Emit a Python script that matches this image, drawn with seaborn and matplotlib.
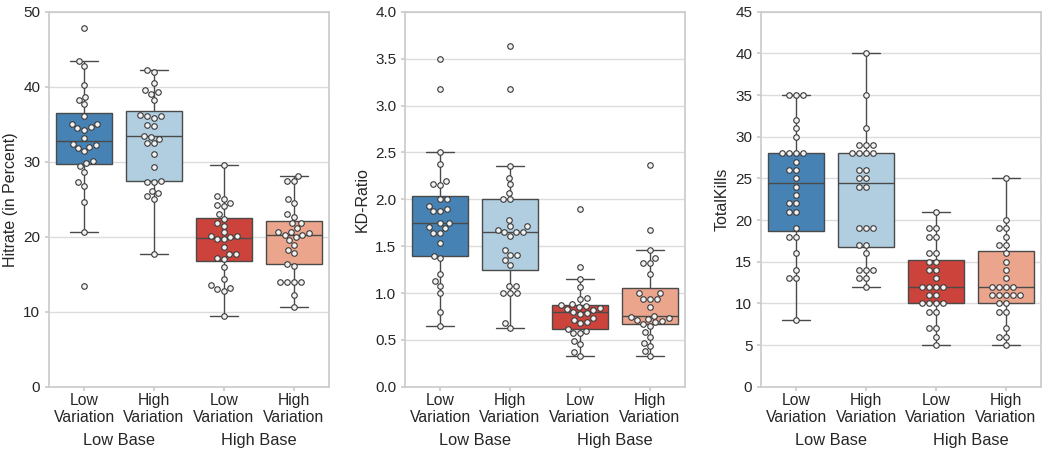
import numpy as np
import pandas as pd
import seaborn as sns
import matplotlib.pyplot as plt
from matplotlib.transforms import blended_transform_factory

# condition order (x axis) and grouping labels underneath
conditions = ['Low\nVariation', 'High\nVariation', 'Low\nVariation ', 'High\nVariation ']
base_labels = ['Low Base', 'High Base']
colors = ['#4682b4', '#b1cde0', '#cc433b', '#eca58d']

# Hitrate (in Percent), 28 participants per condition
hit_lv_lb = [13.5, 20.7, 24.7, 26.8, 27.3, 28.7, 29.4, 29.8, 30.1, 31.4, 31.9, 32.0, 32.2, 32.4,
             33.2, 34.3, 34.5, 34.6, 35.0, 35.1, 36.1, 37.7, 38.3, 38.7, 40.2, 42.8, 43.4, 47.8]
hit_hv_lb = [17.7, 25.1, 25.4, 25.8, 26.1, 27.3, 27.3, 27.5, 29.3, 31.1, 32.5, 32.5, 33.1, 33.3,
             33.5, 34.8, 34.9, 35.8, 36.1, 36.1, 36.2, 38.3, 39.1, 39.3, 39.6, 40.5, 42.0, 42.2]
hit_lv_hb = [9.4, 12.8, 13.1, 13.2, 13.6, 14.4, 16.0, 17.1, 17.2, 17.7, 17.7, 18.6, 19.7, 19.7,
             20.0, 20.1, 20.1, 20.6, 21.5, 21.8, 22.4, 23.0, 24.1, 24.2, 24.5, 25.1, 25.4, 29.6]
hit_hv_hb = [10.7, 12.2, 14.0, 14.0, 14.0, 14.0, 16.1, 16.4, 17.8, 18.3, 18.9, 19.6, 20.0, 20.3,
             20.3, 20.5, 20.6, 20.7, 21.2, 21.8, 21.9, 22.7, 23.0, 24.5, 25.1, 27.4, 27.4, 28.1]

# KD-Ratio
kd_lv_lb = [0.65, 0.80, 1.00, 1.08, 1.13, 1.20, 1.37, 1.40, 1.53, 1.64, 1.64, 1.69, 1.70, 1.75,
            1.75, 1.87, 1.87, 1.90, 1.93, 2.00, 2.00, 2.15, 2.16, 2.19, 2.38, 2.50, 3.18, 3.50]
kd_hv_lb = [0.63, 0.68, 1.00, 1.00, 1.00, 1.07, 1.07, 1.30, 1.35, 1.41, 1.41, 1.46, 1.61, 1.65,
            1.65, 1.65, 1.67, 1.71, 1.71, 1.78, 2.00, 2.00, 2.07, 2.16, 2.23, 2.36, 3.18, 3.63]
kd_lv_hb = [0.33, 0.37, 0.46, 0.49, 0.57, 0.57, 0.60, 0.62, 0.68, 0.69, 0.71, 0.73, 0.78, 0.79,
            0.80, 0.82, 0.83, 0.84, 0.85, 0.86, 0.87, 0.88, 0.94, 0.95, 1.06, 1.15, 1.28, 1.90]
kd_hv_hb = [0.33, 0.38, 0.43, 0.47, 0.53, 0.58, 0.65, 0.67, 0.69, 0.70, 0.71, 0.72, 0.73, 0.74,
            0.76, 0.85, 0.94, 0.94, 0.94, 1.00, 1.00, 1.20, 1.32, 1.32, 1.37, 1.46, 1.67, 2.37]

# TotalKills
kills_lv_lb = [8, 13, 13, 14, 16, 18, 18, 19, 21, 21, 22, 22, 23, 24,
               25, 26, 26, 27, 28, 28, 28, 28, 30, 31, 32, 35, 35, 35]
kills_hv_lb = [12, 13, 13, 14, 14, 14, 16, 17, 17, 19, 19, 19, 24, 24,
               25, 25, 26, 26, 28, 28, 28, 28, 29, 29, 29, 31, 35, 40]
kills_lv_hb = [5, 6, 7, 7, 9, 9, 10, 10, 10, 10, 11, 11, 12, 12,
               12, 12, 13, 14, 14, 15, 15, 16, 16, 18, 18, 19, 19, 21]
kills_hv_hb = [5, 6, 6, 7, 9, 9, 10, 10, 11, 11, 11, 11, 11, 12,
               12, 12, 12, 13, 14, 15, 16, 17, 17, 18, 19, 19, 20, 25]

panels = [
    ('Hitrate (in Percent)', [hit_lv_lb, hit_hv_lb, hit_lv_hb, hit_hv_hb], 50, 10, '{:.0f}'),
    ('KD-Ratio', [kd_lv_lb, kd_hv_lb, kd_lv_hb, kd_hv_hb], 4.0, 0.5, '{:.1f}'),
    ('TotalKills', [kills_lv_lb, kills_hv_lb, kills_lv_hb, kills_hv_hb], 45, 5, '{:.0f}'),
]

sns.set_theme(style='whitegrid')
plt.rcParams['font.family'] = ['Liberation Sans', 'DejaVu Sans']

fig, axes = plt.subplots(1, 3, figsize=(10.48, 4.54), dpi=100)
fig.subplots_adjust(left=0.047, right=0.993, top=0.974, bottom=0.148, wspace=0.275)

for ax, (ylabel, groups, ymax, step, fmt) in zip(axes, panels):
    df = pd.DataFrame({
        'cond': np.repeat(conditions, [len(g) for g in groups]),
        'value': np.concatenate(groups),
    })
    sns.boxplot(data=df, x='cond', y='value', hue='cond', order=conditions,
                hue_order=conditions, palette=colors, saturation=1, width=0.8,
                showfliers=False, linewidth=1, linecolor='#4a4a4a',
                legend=False, ax=ax)
    sns.swarmplot(data=df, x='cond', y='value', order=conditions,
                  color='#f2f2f2', edgecolor='#3a3a3a', linewidth=0.8,
                  size=4, ax=ax)
    ax.set_ylim(0, ymax)
    ticks = np.arange(0, ymax + step / 2, step)
    ax.set_yticks(ticks)
    ax.set_yticklabels([fmt.format(t) for t in ticks])
    ax.set_xlabel('')
    ax.set_ylabel(ylabel, fontsize=11.5)
    ax.set_xticks(range(4))
    ax.set_xticklabels([c.strip() for c in conditions], fontsize=11.3, linespacing=1.15)
    ax.tick_params(axis='y', labelsize=11, left=True, length=3, color='#cccccc')
    ax.tick_params(axis='x', bottom=True, length=3, color='#cccccc', pad=1.5)
    ax.grid(axis='x', visible=False)
    ax.grid(axis='y', color='#dcdcdc', linewidth=1)
    for s in ax.spines.values():
        s.set_color('#cccccc')
    trans = blended_transform_factory(ax.transData, ax.transAxes)
    for i, lab in enumerate(base_labels):
        ax.text(2 * i + 0.5, -0.142, lab, transform=trans, ha='center', va='center',
                fontsize=11.8)

fig.savefig('out.png', dpi=100)
